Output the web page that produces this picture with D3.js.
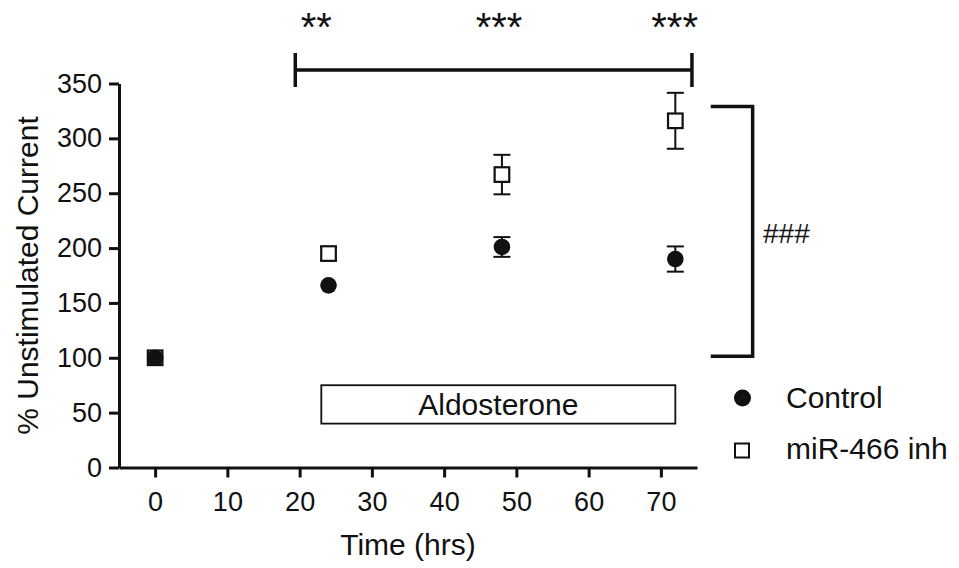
<!DOCTYPE html>
<html>
  <head>
    <meta charset="utf-8">
    <title>Aldosterone time course</title>
    <script src="https://cdn.jsdelivr.net/npm/d3@7"></script>
    <style type="text/css">
      body { margin: 0; background: #fff; }
      text { font-family: Arial, "Liberation Sans", sans-serif; fill: #111; }
    </style>
  </head>
  <body>
    <script>
    // data
    var times = [0, 24, 48, 72];
    var controlMean = [100, 166, 201, 190];
    var controlSem = [0, 0, 9, 11.5];
    var inhMean = [100, 195, 267, 316];
    var inhSem = [0, 6, 18, 25.5];
    var seriesNames = ["Control", "miR-466 inh"];
    var xTicks = [0, 10, 20, 30, 40, 50, 60, 70];
    var yTicks = [0, 50, 100, 150, 200, 250, 300, 350];
    var stars = ["**", "***", "***"];
    var starTimes = [22.3, 47.6, 71.9];
    var treatment = {label: "Aldosterone", from: 23, to: 72, low: 40, high: 75};

    var width = 959, height = 568;

    var svg = d3.select("body")
      .append("svg")
        .attr("width", width)
        .attr("height", height);

    var x = d3.scaleLinear().domain([-5, 75]).range([119, 697]);
    var y = d3.scaleLinear().domain([0, 350]).range([467.5, 83.5]);

    // axes
    var xAxis = svg.append("g")
      .attr("transform", "translate(0," + y(0) + ")")
      .call(d3.axisBottom(x).tickValues(xTicks).tickSize(10).tickSizeOuter(0).tickPadding(14));

    var yAxis = svg.append("g")
      .attr("transform", "translate(" + x(-5) + ",0)")
      .call(d3.axisLeft(y).tickValues(yTicks).tickSize(10).tickSizeOuter(0).tickPadding(7));

    [xAxis, yAxis].forEach(function(a) {
      a.selectAll("path, line").attr("stroke", "#111").attr("stroke-width", 3);
      a.selectAll("text").attr("font-size", 27).attr("fill", "#111")
        .style("font-family", "Arial, 'Liberation Sans', sans-serif");
    });

    svg.append("text")
      .attr("x", (x(-5) + x(75)) / 2)
      .attr("y", 555)
      .attr("text-anchor", "middle")
      .attr("font-size", 30)
      .text("Time (hrs)");

    svg.append("text")
      .attr("transform", "translate(38," + (y(0) + y(350)) / 2 + ") rotate(-90)")
      .attr("text-anchor", "middle")
      .attr("font-size", 30)
      .text("% Unstimulated Current");

    // aldosterone box
    svg.append("rect")
      .attr("x", x(treatment.from))
      .attr("y", y(treatment.high))
      .attr("width", x(treatment.to) - x(treatment.from))
      .attr("height", y(treatment.low) - y(treatment.high))
      .attr("fill", "none")
      .attr("stroke", "#111")
      .attr("stroke-width", 1.8);

    svg.append("text")
      .attr("x", (x(treatment.from) + x(treatment.to)) / 2)
      .attr("y", 415)
      .attr("text-anchor", "middle")
      .attr("font-size", 30)
      .text(treatment.label);

    // build point rows
    var ctrl = times.map(function(t, i) { return {t: t, m: controlMean[i], s: controlSem[i]}; });
    var inh = times.map(function(t, i) { return {t: t, m: inhMean[i], s: inhSem[i]}; });

    function errorBars(data) {
      data = data.filter(function(d) { return d.s > 0; });
      var g = svg.append("g").attr("stroke", "#111").attr("stroke-width", 2);
      g.selectAll(".v").data(data).enter().append("line")
        .attr("x1", function(d) { return x(d.t); })
        .attr("x2", function(d) { return x(d.t); })
        .attr("y1", function(d) { return y(d.m - d.s); })
        .attr("y2", function(d) { return y(d.m + d.s); });
      [-1, 1].forEach(function(sign) {
        g.selectAll(".c" + sign).data(data).enter().append("line")
          .attr("x1", function(d) { return x(d.t) - 8.5; })
          .attr("x2", function(d) { return x(d.t) + 8.5; })
          .attr("y1", function(d) { return y(d.m + sign * d.s); })
          .attr("y2", function(d) { return y(d.m + sign * d.s); });
      });
    }

    errorBars(inh);
    errorBars(ctrl);

    svg.selectAll(".sq").data(inh).enter().append("rect")
      .attr("x", function(d) { return x(d.t) - 7.3; })
      .attr("y", function(d) { return y(d.m) - 7.3; })
      .attr("width", 14.6)
      .attr("height", 14.6)
      .attr("fill", "#fff")
      .attr("stroke", "#111")
      .attr("stroke-width", 2.2);

    svg.selectAll(".dot").data(ctrl).enter().append("circle")
      .attr("cx", function(d) { return x(d.t); })
      .attr("cy", function(d) { return y(d.m); })
      .attr("r", 8.3)
      .attr("fill", "#111");

    // significance bracket across the top
    var barY = 70;
    svg.append("path")
      .attr("d", "M" + x(19.4) + "," + (barY - 17) + "V" + (barY + 17) +
                 "M" + x(19.4) + "," + barY + "H" + x(74.3) +
                 "M" + x(74.3) + "," + (barY - 17) + "V" + (barY + 17))
      .attr("fill", "none")
      .attr("stroke", "#111")
      .attr("stroke-width", 3.5);

    svg.selectAll(".star").data(stars).enter().append("text")
      .attr("x", function(d, i) { return x(starTimes[i]); })
      .attr("y", 41)
      .attr("text-anchor", "middle")
      .attr("font-size", 40)
      .text(function(d) { return d; });

    // bracket on the right, 72 h groups
    svg.append("path")
      .attr("d", "M" + x(76.9) + "," + y(329) + "H" + x(82.7) + "V" + y(101.5) + "H" + x(76.9))
      .attr("fill", "none")
      .attr("stroke", "#111")
      .attr("stroke-width", 3.5);

    svg.append("text")
      .attr("x", 763)
      .attr("y", 243)
      .attr("font-size", 28)
      .text("###");

    // legend
    var legend = svg.append("g");
    legend.append("circle").attr("cx", 742.5).attr("cy", 398).attr("r", 8.5).attr("fill", "#111");
    legend.append("rect").attr("x", 735).attr("y", 443.5).attr("width", 14).attr("height", 14)
      .attr("fill", "#fff").attr("stroke", "#111").attr("stroke-width", 2);
    legend.selectAll(".lt").data(seriesNames).enter().append("text")
      .attr("x", 786)
      .attr("y", function(d, i) { return 408 + i * 51; })
      .attr("font-size", 30)
      .text(function(d) { return d; });
    </script>
  </body>
</html>
